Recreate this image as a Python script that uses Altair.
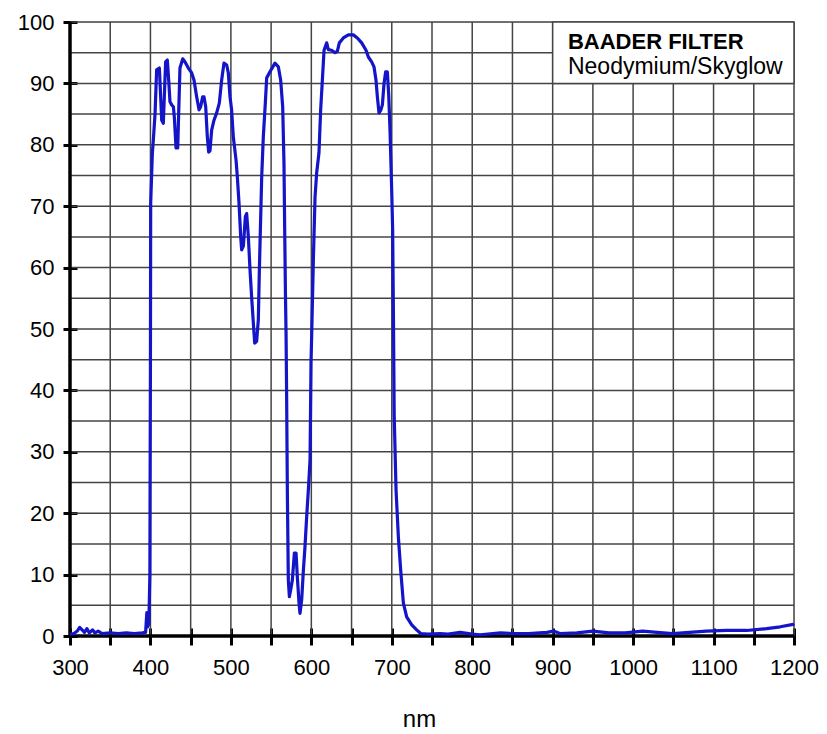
import altair as alt
import pandas as pd

# --- transmission curve (nm, %) ---
wavelength = [300, 305, 309, 312, 315, 318, 321, 324, 328, 331, 335, 340, 350, 360, 370, 380, 390,
              394, 395.5, 396.5, 398, 399.3, 400.0, 400.3, 402.4, 403.6, 405.7, 407.7, 411.1, 412.7,
              414.0, 416.0, 417.3, 418.9, 421.0, 422.7, 424.3, 426.4, 428.5, 429.7, 431.8, 433.9,
              435.1, 436.7, 440.1, 443.0, 447.1, 451.3, 454.2, 457.5, 460.4, 462.4, 464.9, 466.6,
              468.7, 470.7, 472.4, 474.0, 476.1, 479.0, 482.3, 485.6, 488.5, 491.4, 494.8, 496.8,
              498.9, 500.9, 503.0, 506.4, 508.0, 510.1, 512.2, 513.4, 515.5, 518.0, 519.6, 521.7,
              523.8, 525.8, 527.9, 529.6, 532.0, 534.1, 535.4, 538.3, 540.3, 542.8, 544.5, 548.6,
              554.8, 559.0, 561.9, 564.4, 566.0, 566.9, 567.8, 568.6, 569.3, 570.2, 571.4, 572.7,
              574.3, 576.4, 578.9, 581.0, 582.6, 584.7, 585.9, 588.0, 590.1, 592.1, 594.2, 596.3,
              598.4, 599.6, 600.4, 602.5, 604.6, 606.6, 609.5, 611.6, 613.7, 615.8, 619.1, 621.1,
              625.3, 629.4, 632.3, 634.8, 639.8, 646.0, 652.2, 657.2, 662.6, 668.0, 670.9, 675.0,
              677.9, 680.4, 682.1, 684.1, 686.2, 688.3, 690.4, 692.4, 694.5, 696.2, 697.8, 699.9,
              701.1, 702.2, 703.0, 705.3, 708.2, 711.1, 714.4, 718.5, 724.8, 730.9, 736, 745, 760,
              770, 785, 800, 810, 835, 850, 870, 893, 901, 909, 930, 950, 970, 990, 1012, 1030,
              1049, 1070, 1091, 1116, 1141, 1166, 1183, 1199, 1200]
transmission = [0.3, 0.4, 0.8, 1.4, 1.0, 0.6, 1.2, 0.5, 1.0, 0.5, 0.8, 0.4, 0.5, 0.4, 0.5, 0.4, 0.5,
                0.6, 3.8, 1.5, 2.0, 10, 45, 70.5, 78.7, 80.8, 85, 92.2, 92.5, 87.8,
                84, 83.5, 88, 93.5, 93.8, 90.5, 87, 86.5, 86.2, 84.5, 79.5, 79.5,
                85.2, 92.5, 94, 93.5, 92.5, 91.7, 90.5, 87.8, 85.7, 86.2, 87.8, 87.8,
                86.2, 81.3, 78.8, 79.0, 82.4, 84, 85.2, 86.8, 90.5, 93.3, 93, 91.7,
                87.8, 85.7, 81.3, 77.5, 74.8, 70.5, 65, 62.9, 63.5, 68.3, 68.8, 65,
                59.6, 55.2, 51, 47.7, 48, 51.5, 59.6, 74.8, 81.3, 86.8, 90.9, 91.9,
                93.3, 92.7, 90.5, 86.2, 77, 66, 56, 49, 39, 23.3, 9.1, 6.4,
                7.5, 9.1, 13.5, 13.5, 9.6, 5.4, 3.7, 5.9, 10.7, 14.5, 19.4, 23.8,
                28.7, 44.5, 48.8, 61.2, 71.5, 75.4, 78.7, 85.7, 90.5, 95.4, 96.6, 95.5,
                95.4, 95, 95.2, 96.6, 97.4, 97.9, 97.9, 97.4, 96.6, 95.4, 94.3, 93.5,
                92.7, 90.5, 87.8, 85.2, 85.6, 86.5, 90, 91.9, 91.9, 88.1, 82.4, 72.6,
                66.1, 50, 36, 23.8, 16.1, 10.7, 5.4, 3.1, 1.8, 1.0, 0.4, 0.3, 0.4,
                0.3, 0.6, 0.3, 0.2, 0.5, 0.4, 0.4, 0.6, 0.8, 0.4, 0.5, 0.8, 0.5, 0.5, 0.8, 0.6,
                0.4, 0.6, 0.8, 0.9, 0.9, 1.2, 1.5, 1.9, 2.0]

# axis / grid values
x_ticks = list(range(300, 1201, 50))
y_ticks = list(range(0, 101, 5))
x_domain = [300, 1200]
y_domain = [0, 100]

# legend box contents (data coordinates)
box_x, box_x2, box_y, box_y2 = [900], [1200], [90], [100]
legend_title = ["BAADER FILTER"]
legend_sub = ["Neodymium/Skyglow"]
legend_x = [919]
legend_title_y = [95.6]
legend_sub_y = [91.5]

W, H = 724, 614
LABEL_FONT = "Liberation Sans"
TEXT_FONT = "Liberation Sans"
GRID_COLOR = "#444444"

curve = pd.DataFrame({"nm": wavelength, "t": transmission})
gx = pd.DataFrame({"gx": x_ticks})
gy = pd.DataFrame({"gy": y_ticks})
box = pd.DataFrame({"x": box_x, "x2": box_x2, "y": box_y, "y2": box_y2})
leg1 = pd.DataFrame({"x": legend_x, "y": legend_title_y, "txt": legend_title})
leg2 = pd.DataFrame({"x": legend_x, "y": legend_sub_y, "txt": legend_sub})
ax_x = pd.DataFrame({"v": [x_domain[0]]})
ax_y = pd.DataFrame({"v": [y_domain[0]]})

xscale = alt.Scale(domain=x_domain, nice=False, zero=False)
yscale = alt.Scale(domain=y_domain, nice=False)

x_axis = alt.Axis(
    values=x_ticks, format="d",
    labelExpr="datum.value % 100 === 0 ? datum.label : ''",
    domain=False, grid=False, ticks=True, tickColor="black", tickWidth=3,
    tickSize=17, offset=-8,
    labelFont=LABEL_FONT, labelFontSize=22, labelColor="black", labelPadding=12,
    labelOverlap=False, labelFlush=False,
    title="nm", titleFont=LABEL_FONT, titleFontSize=24, titleFontWeight="normal",
    titleColor="black", titleX=349, titleY=98, titleBaseline="alphabetic",
    titleAlign="center",
)
y_axis = alt.Axis(
    values=y_ticks, format="d",
    labelExpr="datum.value % 10 === 0 ? datum.label : ''",
    domain=False, grid=False, ticks=True, tickColor="black", tickWidth=3,
    tickSize=14, offset=-7,
    labelFont=LABEL_FONT, labelFontSize=22, labelColor="black", labelPadding=9,
    labelOverlap=False, labelFlush=False, title=None,
)

def X(f):
    return alt.X(f, type="quantitative", scale=xscale, axis=x_axis)

def Y(f):
    return alt.Y(f, type="quantitative", scale=yscale, axis=y_axis)

vgrid = alt.Chart(gx).mark_rule(color=GRID_COLOR, strokeWidth=1.5).encode(
    x=X("gx"), y=alt.datum(y_domain[0]), y2=alt.datum(y_domain[1]))
hgrid = alt.Chart(gy).mark_rule(color=GRID_COLOR, strokeWidth=1.5).encode(
    y=Y("gy"), x=alt.datum(x_domain[0]), x2=alt.datum(x_domain[1]))
legend_box = alt.Chart(box).mark_rect(fill="white", stroke=GRID_COLOR, strokeWidth=1.5).encode(
    x=X("x"), x2="x2", y=Y("y"), y2="y2")
axis_v = alt.Chart(ax_x).mark_rule(color="black", strokeWidth=3.5).encode(
    x=X("v"), y=alt.datum(y_domain[0]), y2=alt.datum(y_domain[1]))
axis_h = alt.Chart(ax_y).mark_rule(color="black", strokeWidth=3.5).encode(
    y=Y("v"), x=alt.datum(x_domain[0]), x2=alt.datum(x_domain[1]))
line = alt.Chart(curve).mark_line(color="#1414c8", strokeWidth=3.2, strokeJoin="round").encode(
    x=X("nm"), y=Y("t"), order="nm:Q")
t1 = alt.Chart(leg1).mark_text(align="left", baseline="alphabetic", font=TEXT_FONT,
                               fontSize=22, fontWeight="bold", color="black").encode(
    x=X("x"), y=Y("y"), text="txt:N")
t2 = alt.Chart(leg2).mark_text(align="left", baseline="alphabetic", font=TEXT_FONT,
                               fontSize=23, color="black").encode(
    x=X("x"), y=Y("y"), text="txt:N")

chart = alt.layer(vgrid, hgrid, legend_box, axis_v, axis_h, line, t1, t2).properties(
    width=W, height=H,
    autosize=alt.AutoSizeParams(type="none"),
    padding={"left": 62, "top": 14, "right": 25, "bottom": 98},
).configure_view(strokeWidth=0).configure(background="white")

chart.save("out.html", embed_options={"renderer": "svg", "actions": False})
